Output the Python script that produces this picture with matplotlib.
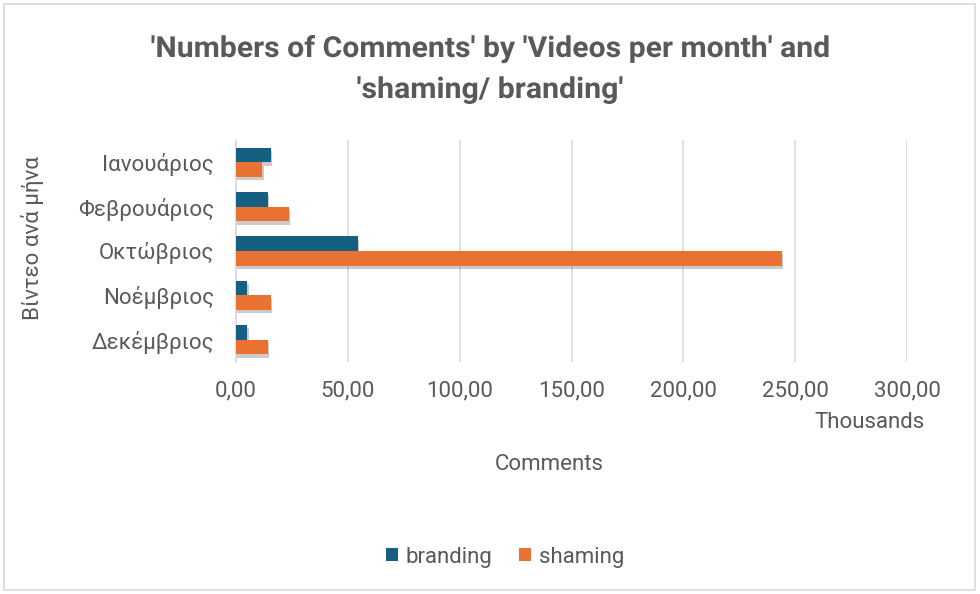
import matplotlib
matplotlib.use("Agg")
import matplotlib.pyplot as plt
import matplotlib.patheffects as pe
from matplotlib.patches import Rectangle, PathPatch
from matplotlib.textpath import TextPath
from matplotlib.font_manager import FontProperties
from matplotlib.transforms import Affine2D
from matplotlib.ticker import FuncFormatter
import numpy as np

months = ["Ιανουάριος", "Φεβρουάριος", "Οκτώβριος", "Νοέμβριος", "Δεκέμβριος"]
branding = [15.7, 14.2, 54.4, 5.1, 5.1]      # thousands of comments
shaming = [11.8, 23.7, 244.0, 15.5, 14.2]    # thousands of comments
x_ticks = [0, 50, 100, 150, 200, 250, 300]
title_lines = ["'Numbers of Comments' by 'Videos per month' and", "'shaming/ branding'"]

BLUE = "#156082"
ORANGE = "#E97132"
TXT = "#595959"
FS = 16

plt.rcParams["font.family"] = ["Roboto", "DejaVu Sans"]

W, H = 980, 594
fig = plt.figure(figsize=(W / 100, H / 100), dpi=100)

# chart-area frame
fig.patches.append(Rectangle((4 / W, 4 / H), 971 / W, 586 / H, transform=fig.transFigure,
                             fill=False, edgecolor="#D9D9D9", linewidth=1.2))

ax = fig.add_axes([236 / W, 1 - 362 / H, (907 - 236) / W, (362 - 140) / H])

y = np.arange(len(months))
h = 0.33
shadow = [pe.SimplePatchShadow(offset=(0.8, -2.4), alpha=0.25, shadow_rgbFace="#333333"), pe.Normal()]
bb = ax.barh(y - h / 2, branding, height=h, color=BLUE, zorder=3)
bs = ax.barh(y + h / 2, shaming, height=h, color=ORANGE, zorder=3)
for b in list(bb) + list(bs):
    b.set_path_effects(shadow)

ax.set_ylim(len(months) - 0.5, -0.5)
ax.set_xlim(0, 300)
ax.set_xticks(x_ticks)
ax.xaxis.set_major_formatter(FuncFormatter(lambda v, p: f"{v:.2f}".replace(".", ",")))
ax.set_yticks(y)
ax.set_yticklabels(months)
ax.grid(axis="x", color="#D9D9D9", linewidth=1.1, zorder=0)
for s in ["top", "right", "bottom"]:
    ax.spines[s].set_visible(False)
ax.spines["left"].set_color("#D9D9D9")
ax.spines["left"].set_linewidth(1.1)
ax.tick_params(axis="both", length=0, labelsize=FS, colors=TXT)
ax.tick_params(axis="x", pad=13)
ax.tick_params(axis="y", pad=16)


def narrow_title(text, baseline_px, width_px, size_px):
    """Draw bold title text horizontally condensed to a given pixel width."""
    fp = FontProperties(family="Roboto", weight="bold")
    tp = TextPath((0, 0), text, size=size_px, prop=fp)
    ext = tp.get_extents()
    sx = width_px / ext.width
    tr = (Affine2D().translate(-(ext.x0 + ext.width / 2), 0).scale(sx, 1)
          .translate(W / 2, H - baseline_px))
    patch = PathPatch(tp, facecolor=TXT, edgecolor="none")
    patch.set_transform(tr)
    fig.patches.append(patch)


narrow_title(title_lines[0], 57, 677, 29)
narrow_title(title_lines[1], 98, 265, 29)

fig.text(32 / W, 1 - 238 / H, "Βίντεο ανά μήνα", rotation=90, ha="center", va="center",
         fontsize=FS, color=TXT)
fig.text(549 / W, 1 - 464 / H, "Comments", ha="center", va="center", fontsize=FS, color=TXT)
fig.text(925 / W, 1 - 422 / H, "Thousands", ha="right", va="center", fontsize=FS, color=TXT)

leg = fig.legend([bb, bs], ["branding", "shaming"], loc="center", bbox_to_anchor=(505 / W, 1 - 557 / H),
                 ncol=2, frameon=False, fontsize=FS, handlelength=0.55, handleheight=0.55,
                 handletextpad=0.35, columnspacing=1.2)
for hnd in leg.legend_handles:
    hnd.set_path_effects([])
for t in leg.get_texts():
    t.set_color(TXT)

fig.savefig("out.png", dpi=100)
